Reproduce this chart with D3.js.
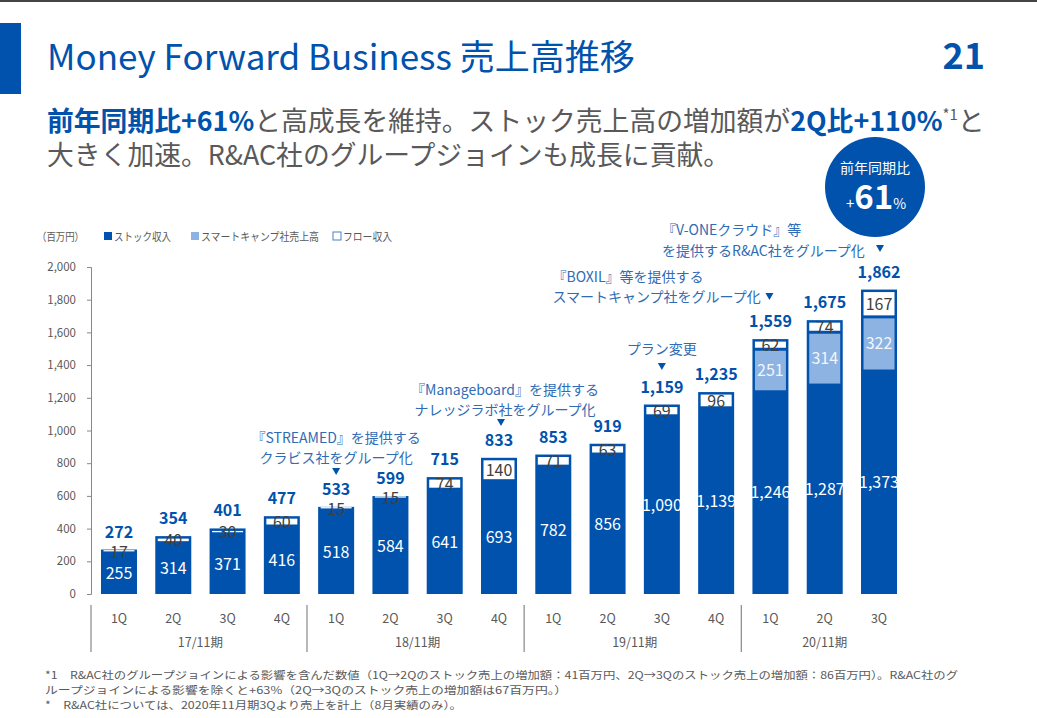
<!DOCTYPE html>
<html><head><meta charset="utf-8">
<script src="https://cdn.jsdelivr.net/npm/d3@7"></script>
<style>
html,body{margin:0;padding:0;background:#fff;}
svg{display:block;font-family:'Noto Sans CJK JP','Noto Sans',sans-serif;}
</style></head>
<body>
<svg id="c" width="1037" height="718"></svg>
<script>
// ---- data ----
const categories = ['1Q','2Q','3Q','4Q','1Q','2Q','3Q','4Q','1Q','2Q','3Q','4Q','1Q','2Q','3Q'];
const fiscalYears = ['17/11期','18/11期','19/11期','20/11期'];
const yearOfBar = [0,0,0,0,1,1,1,1,2,2,2,2,3,3,3];
const stock = [255,314,371,416,518,584,641,693,782,856,1090,1139,1246,1287,1373];
const smartcamp = [0,0,0,0,0,0,0,0,0,0,0,0,251,314,322];
const flow = [17,40,30,60,15,15,74,140,71,63,69,96,62,74,167];
const totals = [272,354,401,477,533,599,715,833,853,919,1159,1235,1559,1675,1862];
const yTicks = [0,200,400,600,800,1000,1200,1400,1600,1800,2000];
const legendItems = ['ストック収入','スマートキャンプ社売上高','フロー収入'];
const annotations = [
  {bar:4, lines:['『STREAMED』を提供する','クラビス社をグループ化']},
  {bar:7, lines:['『Manageboard』を提供する','ナレッジラボ社をグループ化']},
  {bar:10, lines:['プラン変更']},
  {bar:12, lines:['『BOXIL』等を提供する','スマートキャンプ社をグループ化']},
  {bar:14, lines:['『V-ONEクラウド』等','を提供するR&AC社をグループ化']}
];
const footnotes = [
  '*1　R&AC社のグループジョインによる影響を含んだ数値（1Q→2Qのストック売上の増加額：41百万円、2Q→3Qのストック売上の増加額：86百万円）。R&AC社のグ',
  'ループジョインによる影響を除くと+63%（2Q→3Qのストック売上の増加額は67百万円。）',
  '*　R&AC社については、2020年11月期3Qより売上を計上（8月実績のみ）。'
];

// ---- style ----
const BLUE = '#0052AC', LIGHT = '#8DB3E2', GRAY = '#595959', ANN = '#2F6CB5';
const svg = d3.select('#c');

// header
svg.append('rect').attr('x',0).attr('y',0).attr('width',1037).attr('height',2).attr('fill','#444');
svg.append('rect').attr('x',0).attr('y',23).attr('width',21).attr('height',71).attr('fill',BLUE);
svg.append('text').attr('x',47).attr('y',70).attr('fill',BLUE).attr('font-size',35)
  .text('Money Forward Business 売上高推移');
svg.append('text').attr('x',985).attr('y',69).attr('text-anchor','end').attr('fill',BLUE)
  .attr('font-size',36).attr('font-weight','bold').text('21');

const sub1 = svg.append('text').attr('x',47).attr('y',131).attr('font-size',26.8).attr('fill',GRAY);
sub1.append('tspan').attr('fill',BLUE).attr('font-weight','bold').text('前年同期比+61%');
sub1.append('tspan').text('と高成長を維持。ストック売上高の増加額が');
sub1.append('tspan').attr('fill',BLUE).attr('font-weight','bold').text('2Q比+110%');
sub1.append('tspan').attr('font-size',15).attr('dy',-11).text('*1');
sub1.append('tspan').attr('dy',11).text('と');
svg.append('text').attr('x',47).attr('y',165).attr('font-size',26.8).attr('fill',GRAY)
  .text('大きく加速。R&AC社のグループジョインも成長に貢献。');

// circle badge
svg.append('circle').attr('cx',875).attr('cy',187).attr('r',50).attr('fill',BLUE);
svg.append('text').attr('x',875).attr('y',173).attr('text-anchor','middle').attr('fill','#fff')
  .attr('font-size',14).text('前年同期比');
const big = svg.append('text').attr('x',876).attr('y',209).attr('text-anchor','middle').attr('fill','#fff');
big.append('tspan').attr('font-size',15).text('+');
big.append('tspan').attr('font-size',33).attr('font-weight','bold').text('61');
big.append('tspan').attr('font-size',14).text('%');

// legend
const lg = svg.append('g').attr('font-size',11).attr('fill',GRAY);
lg.append('text').attr('x',37).attr('y',241).attr('textLength',47).attr('lengthAdjust','spacingAndGlyphs').text('（百万円）');
const legX = [104, 191, 333];
const legW = [57, 118, 49];
const legFill = [BLUE, LIGHT, '#fff'];
legendItems.forEach((t,i)=>{
  lg.append('rect').attr('x',legX[i]).attr('y',232).attr('width',8).attr('height',8)
    .attr('fill',legFill[i]).attr('stroke', i===2?'#4A80C8':'none').attr('stroke-width',1);
  lg.append('text').attr('x',legX[i]+10).attr('y',241)
    .attr('textLength',legW[i]).attr('lengthAdjust','spacingAndGlyphs').text(t);
});

// scales
const x = d3.scaleBand().domain(d3.range(categories.length)).range([91,907])
  .paddingInner(0.337).paddingOuter(0.184);
const y = d3.scaleLinear().domain([0,2000]).range([594,267]);
const bw = x.bandwidth();

// y axis
const yAxis = svg.append('g').attr('transform','translate(91,0)')
  .call(d3.axisLeft(y).tickValues(yTicks).tickSize(4).tickPadding(11).tickFormat(d3.format(',')));
yAxis.selectAll('path,line').attr('stroke','#888');
yAxis.select('.domain').attr('d','M-4,267.5H0.5V594.5H-4');
yAxis.selectAll('text').attr('fill',GRAY).attr('font-size',11.5)
  .attr('font-family',"'Noto Sans CJK JP','Noto Sans',sans-serif");

// bars
const bars = svg.append('g');
categories.forEach((c,i)=>{
  const x0 = x(i);
  const top = stock[i]+smartcamp[i]+flow[i];
  const g = bars.append('g');
  g.append('rect').attr('x',x0).attr('y',y(top)).attr('width',bw).attr('height',y(0)-y(top)).attr('fill',BLUE);
  if (smartcamp[i]>0){
    const yt = y(stock[i]+smartcamp[i]) + 1.5, yb = y(stock[i]);
    g.append('rect').attr('x',x0+2.5).attr('y',yt).attr('width',bw-5).attr('height',yb-yt).attr('fill',LIGHT);
  }
  {
    const yt = y(top) + 2.5, yb = y(stock[i]+smartcamp[i]) - 1.5;
    const h = Math.max(yb-yt, 1.3);
    g.append('rect').attr('x',x0+2.5).attr('y',Math.min(yt, yb - 1.3 + 0.6)).attr('width',bw-5).attr('height',h).attr('fill','#fff');
  }
  const cx = x0 + bw/2;
  g.append('text').attr('x',cx).attr('y',(y(0)+y(stock[i]))/2 + 6).attr('text-anchor','middle')
    .attr('fill','#fff').attr('font-size',16).text(d3.format(',')(stock[i]));
  if (smartcamp[i]>0){
    g.append('text').attr('x',cx).attr('y',(y(stock[i])+y(stock[i]+smartcamp[i]))/2 + 6).attr('text-anchor','middle')
      .attr('fill','#F2F6FB').attr('font-size',16).text(d3.format(',')(smartcamp[i]));
  }
  g.append('text').attr('x',cx).attr('y',(y(stock[i]+smartcamp[i])+y(top))/2 + 7).attr('text-anchor','middle')
    .attr('fill','#404040').attr('font-size',16).text(d3.format(',')(flow[i]));
  g.append('text').attr('x',cx).attr('y',y(top)-12).attr('text-anchor','middle')
    .attr('fill',BLUE).attr('font-size',16).attr('font-weight','bold').text(d3.format(',')(totals[i]));
  svg.append('text').attr('x',cx).attr('y',623).attr('text-anchor','middle').attr('fill',GRAY)
    .attr('font-size',12.5).text(c);
});

// fiscal year groups
fiscalYears.forEach((fy,k)=>{
  const idx = yearOfBar.map((v,i)=>v===k?i:-1).filter(i=>i>=0);
  const first = idx[0], last = idx[idx.length-1];
  const mid = (x(first)+x(last)+bw)/2;
  svg.append('text').attr('x',mid).attr('y',647).attr('text-anchor','middle').attr('fill',GRAY)
    .attr('font-size',12.5).text(fy);
  const sx = k===0 ? 91 : x(first) - x.step()*x.paddingInner()/2 - 2;
  svg.append('line').attr('x1',sx).attr('x2',sx).attr('y1',605).attr('y2',652)
    .attr('stroke','#888').attr('stroke-width',1.2);
});

// annotations
const annPos = [
  {dx:0, y:[443,463], tri:[0,472], anchor:'middle'},
  {dx:6, y:[395,415], tri:[2,423], anchor:'middle'},
  {dx:0, y:[354], tri:[0,367], anchor:'middle'},
  {dx:-218, y:[282,302], tri:[-1,297], anchor:'start'},
  {dx:-217, y:[235,256], tri:[1,249], anchor:'start'}
];
annotations.forEach((a,k)=>{
  const p = annPos[k];
  const cx = x(a.bar) + bw/2;
  a.lines.forEach((t,j)=>{
    svg.append('text').attr('x',cx+p.dx).attr('y',p.y[j]).attr('text-anchor',p.anchor)
      .attr('fill',ANN).attr('font-size',14).text(t);
  });
  const tx = cx + p.tri[0], ty = p.tri[1];
  svg.append('path').attr('d',`M${tx-4},${ty-4}L${tx+4},${ty-4}L${tx},${ty+3}Z`).attr('fill',BLUE);
});

// footnotes
const footW = [913, 522, 417];
footnotes.forEach((t,i)=>{
  svg.append('text').attr('x',45).attr('y',[679,694,709][i]).attr('fill',GRAY).attr('font-size',10.5)
    .attr('textLength',footW[i]).attr('lengthAdjust','spacingAndGlyphs').text(t);
});
</script>
</body></html>
